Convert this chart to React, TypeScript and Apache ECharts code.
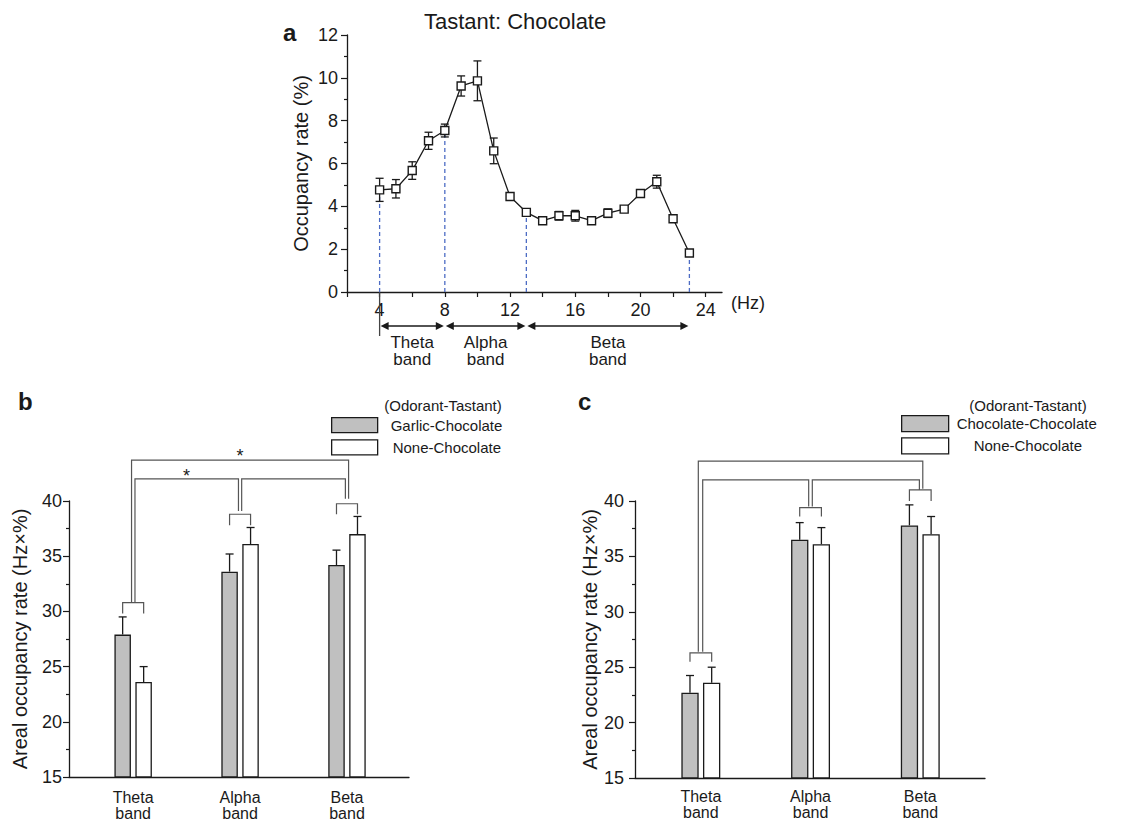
import React, { useEffect, useRef } from 'react';
import * as echarts from 'echarts';

// ---------- Panel a data ----------
const freqHz = [4, 5, 6, 7, 8, 9, 10, 11, 12, 13, 14, 15, 16, 17, 18, 19, 20, 21, 22, 23];
const occupancy = [4.77, 4.82, 5.67, 7.06, 7.54, 9.62, 9.86, 6.59, 4.46, 3.72, 3.33, 3.56, 3.56, 3.33, 3.68, 3.87, 4.6, 5.15, 3.42, 1.82];
const occupancyErr = [0.54, 0.43, 0.41, 0.4, 0.3, 0.47, 0.93, 0.6, 0.15, 0.12, 0.15, 0.2, 0.25, 0.15, 0.2, 0.1, 0.15, 0.3, 0.12, 0.1];
const bandEdges = [4, 8, 13, 23];
const bandNames = ['Theta\nband', 'Alpha\nband', 'Beta\nband'];
const xTicksA = [2, 4, 6, 8, 10, 12, 14, 16, 18, 20, 22, 24];
const xLabelsA = [4, 8, 12, 16, 20, 24];

// ---------- Panels b / c data ----------
const categories = ['Theta\nband', 'Alpha\nband', 'Beta\nband'];
const categoryPos = [1, 2, 3];
const garlicChoc = [27.9, 33.6, 34.2];
const garlicChocErr = [1.6, 1.6, 1.35];
const noneChoc = [23.6, 36.1, 37.0];
const noneChocErr = [1.4, 1.5, 1.6];
const chocChoc = [22.7, 36.5, 37.8];
const chocChocErr = [1.55, 1.55, 1.85];

// significance brackets: [category, topValue, legLength]
const pairBracketsB = [[1, 30.8, 1.0], [2, 38.8, 1.0], [3, 39.75, 0.95]];
// [xLeft, xRight, level, leftEnd, rightEnd]
const groupBracketsB = [[0.985, 3.015, 43.7, 30.8, 40.2], [1.017, 1.985, 42.0, 30.8, 39.1], [2.015, 2.985, 42.0, 39.1, 40.2]];
const starsB = [[1.5, 42.3], [2, 44.1]];

const pairBracketsC = [[1, 26.3, 0.8], [2, 39.4, 0.8], [3, 41.0, 1.0]];
const groupBracketsC = [[0.977, 3.023, 43.6, 26.4, 41.1], [1.017, 1.983, 41.9, 26.4, 39.5], [2.016, 2.992, 41.9, 39.5, 41.0]];

const FONT = '"Liberation Sans", Arial, Helvetica, sans-serif';
const INK = '#1a1a1a';
const GRAY = '#c0c0c0';
const BRACKET = '#555555';

function errorBarSeries(xi: number, yi: number, vals: number[], errs: number[], offsetPx: number) {
  return {
    type: 'custom',
    xAxisIndex: xi,
    yAxisIndex: yi,
    z: 3,
    silent: true,
    data: vals.map((v, i) => [categoryPos[i], v, errs[i]]),
    renderItem: (params: any, api: any) => {
      const x = api.value(0), v = api.value(1), e = api.value(2);
      const base = api.coord([x, v]);
      const top = api.coord([x, v + e]);
      const px = base[0] + offsetPx;
      const st = { stroke: INK, lineWidth: 1.3 };
      return {
        type: 'group',
        children: [
          { type: 'line', shape: { x1: px, y1: base[1], x2: px, y2: top[1] }, style: st },
          { type: 'line', shape: { x1: px - 4, y1: top[1], x2: px + 4, y2: top[1] }, style: st },
        ],
      };
    },
  };
}

function pairBracketSeries(xi: number, yi: number, data: number[][], offsetPx: number) {
  return {
    type: 'custom',
    xAxisIndex: xi,
    yAxisIndex: yi,
    z: 4,
    silent: true,
    data,
    renderItem: (params: any, api: any) => {
      const x = api.value(0), t = api.value(1), l = api.value(2);
      const p = api.coord([x, t]);
      const q = api.coord([x, t - l]);
      return {
        type: 'polyline',
        shape: { points: [[p[0] - offsetPx, q[1]], [p[0] - offsetPx, p[1]], [p[0] + offsetPx, p[1]], [p[0] + offsetPx, q[1]]] },
        style: { stroke: BRACKET, lineWidth: 1.2, fill: 'none' },
      };
    },
  };
}

function groupBracketSeries(xi: number, yi: number, data: number[][]) {
  return {
    type: 'custom',
    xAxisIndex: xi,
    yAxisIndex: yi,
    z: 4,
    silent: true,
    data,
    renderItem: (params: any, api: any) => {
      const a = api.coord([api.value(0), api.value(2)]);
      const b = api.coord([api.value(1), api.value(2)]);
      const ae = api.coord([api.value(0), api.value(3)]);
      const be = api.coord([api.value(1), api.value(4)]);
      return {
        type: 'polyline',
        shape: { points: [[a[0], ae[1]], [a[0], a[1]], [b[0], b[1]], [b[0], be[1]]] },
        style: { stroke: BRACKET, lineWidth: 1.2, fill: 'none' },
      };
    },
  };
}

function valueYAxis(gi: number, name: string, nameGap: number, margin: number) {
  return {
    gridIndex: gi,
    type: 'value',
    min: 15,
    max: 40,
    interval: 5,
    name,
    nameLocation: 'middle',
    nameGap,
    nameTextStyle: { fontSize: 20, fontFamily: FONT, color: INK },
    axisLine: { show: true, onZero: false, lineStyle: { color: INK, width: 1.3 } },
    axisTick: { show: true, length: 6, lineStyle: { color: INK, width: 1.2 } },
    minorTick: { show: true, splitNumber: 2, length: 3, lineStyle: { color: INK, width: 1.2 } },
    axisLabel: { fontSize: 18, fontFamily: FONT, color: INK, margin },
    splitLine: { show: false },
    minorSplitLine: { show: false },
  };
}

function catXAxis(gi: number, max: number, margin: number) {
  return {
    gridIndex: gi,
    type: 'value',
    min: 0.4,
    max,
    axisLine: { show: true, onZero: false, lineStyle: { color: INK, width: 1.3 } },
    axisTick: { show: false },
    axisLabel: {
      customValues: categoryPos,
      formatter: (v: number) => categories[Math.round(v) - 1] ?? '',
      fontSize: 16,
      lineHeight: 16,
      fontFamily: FONT,
      color: INK,
      margin,
    },
    splitLine: { show: false },
  };
}

const option: any = {
  animation: false,
  backgroundColor: '#ffffff',
  textStyle: { fontFamily: FONT },
  title: [
    { text: 'Tastant: Chocolate', left: 424, top: 10, padding: 0, textStyle: { fontSize: 22, fontWeight: 'normal', fontFamily: FONT, color: INK } },
    { text: 'a', left: 283, top: 20, padding: 0, textStyle: { fontSize: 24, fontWeight: 'bold', fontFamily: FONT, color: INK } },
    { text: 'b', left: 18, top: 389, padding: 0, textStyle: { fontSize: 24, fontWeight: 'bold', fontFamily: FONT, color: INK } },
    { text: 'c', left: 578, top: 389, padding: 0, textStyle: { fontSize: 24, fontWeight: 'bold', fontFamily: FONT, color: INK } },
  ],
  legend: [
    {
      left: 331, top: 417, orient: 'vertical', padding: 0, itemWidth: 46, itemHeight: 15, itemGap: 6,
      icon: 'rect', selectedMode: false,
      textStyle: { fontSize: 15, lineHeight: 15, fontFamily: FONT, color: INK },
      data: [
        { name: 'Garlic-Chocolate', itemStyle: { color: GRAY, borderColor: INK, borderWidth: 1.3 }, textStyle: { padding: [0, 0, 0, 8] } },
        { name: 'None-Chocolate', itemStyle: { color: '#ffffff', borderColor: INK, borderWidth: 1.3 }, textStyle: { padding: [0, 0, 0, 10] } },
      ],
    },
    {
      left: 901, top: 415, orient: 'vertical', padding: 0, itemWidth: 47, itemHeight: 16, itemGap: 5,
      icon: 'rect', selectedMode: false,
      textStyle: { fontSize: 15, lineHeight: 16, fontFamily: FONT, color: INK },
      data: [
        { name: 'Chocolate-Chocolate', itemStyle: { color: GRAY, borderColor: INK, borderWidth: 1.3 }, textStyle: { padding: [0, 0, 0, 3] } },
        { name: 'None-Chocolate', itemStyle: { color: '#ffffff', borderColor: INK, borderWidth: 1.3 }, textStyle: { padding: [0, 0, 0, 20] } },
      ],
    },
  ],
  graphic: [
    { type: 'text', x: 443, y: 405, style: { text: '(Odorant-Tastant)', align: 'center', verticalAlign: 'middle', fontSize: 15, fontFamily: FONT, fill: INK } },
    { type: 'text', x: 1028, y: 405, style: { text: '(Odorant-Tastant)', align: 'center', verticalAlign: 'middle', fontSize: 15, fontFamily: FONT, fill: INK } },
  ],
  grid: [
    { left: 347, top: 35, width: 375, height: 257 },
    { left: 69, top: 501, width: 340, height: 276 },
    { left: 635, top: 501, width: 350, height: 277 },
  ],
  xAxis: [
    {
      gridIndex: 0, type: 'value', min: 2, max: 25, interval: 2,
      name: '(Hz)', nameLocation: 'end', nameGap: 9,
      nameTextStyle: { fontSize: 18, fontFamily: FONT, color: INK, verticalAlign: 'top', padding: [2, 0, 0, 0] },
      axisLine: { show: true, onZero: false, lineStyle: { color: INK, width: 1.3 } },
      axisTick: { show: true, length: 5, customValues: xTicksA, lineStyle: { color: INK, width: 1.2 } },
      axisLabel: {
        customValues: xLabelsA,
        formatter: (v: number) => (v % 4 === 0 ? String(v) : ''),
        fontSize: 18, fontFamily: FONT, color: INK, margin: 9,
      },
      splitLine: { show: false },
    },
    catXAxis(1, 3.58, 12),
    catXAxis(2, 3.59, 10),
  ],
  yAxis: [
    {
      gridIndex: 0, type: 'value', min: 0, max: 12, interval: 2,
      name: 'Occupancy rate (%)', nameLocation: 'middle', nameGap: 36,
      nameTextStyle: { fontSize: 20, fontFamily: FONT, color: INK },
      axisLine: { show: true, onZero: false, lineStyle: { color: INK, width: 1.3 } },
      axisTick: { show: true, length: 6, lineStyle: { color: INK, width: 1.2 } },
      minorTick: { show: true, splitNumber: 2, length: 3, lineStyle: { color: INK, width: 1.2 } },
      axisLabel: { fontSize: 18, fontFamily: FONT, color: INK, margin: 9 },
      splitLine: { show: false },
    },
    valueYAxis(1, 'Areal occupancy rate (Hz×%)', 39, 7),
    valueYAxis(2, 'Areal occupancy rate (Hz×%)', 35, 11),
  ],
  series: [
    // ---- panel a ----
    {
      type: 'custom', xAxisIndex: 0, yAxisIndex: 0, z: 1, silent: true,
      data: bandEdges.map((x) => [x, occupancy[freqHz.indexOf(x)]]),
      renderItem: (params: any, api: any) => {
        const p0 = api.coord([api.value(0), 0]);
        const p1 = api.coord([api.value(0), api.value(1)]);
        return {
          type: 'line',
          shape: { x1: p0[0], y1: p0[1], x2: p1[0], y2: p1[1] },
          style: { stroke: '#4d6cc4', lineWidth: 1.3, lineDash: [4, 3] },
        };
      },
    },
    {
      type: 'custom', xAxisIndex: 0, yAxisIndex: 0, z: 2, silent: true,
      data: freqHz.map((x, i) => [x, occupancy[i], occupancyErr[i]]),
      renderItem: (params: any, api: any) => {
        const x = api.value(0), v = api.value(1), e = api.value(2);
        const t = api.coord([x, v + e]);
        const b = api.coord([x, v - e]);
        const st = { stroke: INK, lineWidth: 1.3 };
        return {
          type: 'group',
          children: [
            { type: 'line', shape: { x1: t[0], y1: t[1], x2: b[0], y2: b[1] }, style: st },
            { type: 'line', shape: { x1: t[0] - 4, y1: t[1], x2: t[0] + 4, y2: t[1] }, style: st },
            { type: 'line', shape: { x1: b[0] - 4, y1: b[1], x2: b[0] + 4, y2: b[1] }, style: st },
          ],
        };
      },
    },
    {
      type: 'line', xAxisIndex: 0, yAxisIndex: 0, z: 3,
      data: freqHz.map((x, i) => [x, occupancy[i]]),
      symbol: 'rect', symbolSize: 8,
      itemStyle: { color: '#ffffff', borderColor: INK, borderWidth: 1.4 },
      lineStyle: { color: INK, width: 1.3 },
      silent: true,
    },
    {
      type: 'custom', xAxisIndex: 0, yAxisIndex: 0, z: 2, silent: true,
      data: bandNames.map((n, i) => [bandEdges[i], bandEdges[i + 1], i]),
      renderItem: (params: any, api: any) => {
        const a = api.coord([api.value(0), 0]);
        const b = api.coord([api.value(1), 0]);
        const y = a[1] + 34;
        const xa = a[0] + 1, xb = b[0] - 1;
        const children: any[] = [
          { type: 'line', shape: { x1: xa + 6, y1: y, x2: xb - 6, y2: y }, style: { stroke: INK, lineWidth: 1.3 } },
          { type: 'polygon', shape: { points: [[xa, y], [xa + 8, y - 4], [xa + 8, y + 4]] }, style: { fill: INK } },
          { type: 'polygon', shape: { points: [[xb, y], [xb - 8, y - 4], [xb - 8, y + 4]] }, style: { fill: INK } },
          {
            type: 'text', x: (a[0] + b[0]) / 2, y: y + 25,
            style: { text: bandNames[api.value(2)], align: 'center', verticalAlign: 'middle', fontSize: 17, lineHeight: 17, fontFamily: FONT, fill: INK },
          },
        ];
        if (params.dataIndex === 0) {
          children.push({ type: 'line', shape: { x1: a[0], y1: a[1], x2: a[0], y2: a[1] + 44 }, style: { stroke: '#444', lineWidth: 1.3 } });
        }
        return { type: 'group', children };
      },
    },
    // ---- panel b ----
    {
      type: 'bar', name: 'Garlic-Chocolate', xAxisIndex: 1, yAxisIndex: 1,
      data: garlicChoc.map((v, i) => [categoryPos[i], v]),
      barWidth: 16.5, barGap: '27%',
      itemStyle: { color: GRAY, borderColor: INK, borderWidth: 1.3 },
      silent: true,
    },
    {
      type: 'bar', name: 'None-Chocolate', xAxisIndex: 1, yAxisIndex: 1,
      data: noneChoc.map((v, i) => [categoryPos[i], v]),
      barWidth: 16.5, barGap: '27%',
      itemStyle: { color: '#ffffff', borderColor: INK, borderWidth: 1.3 },
      silent: true,
    },
    errorBarSeries(1, 1, garlicChoc, garlicChocErr, -10.5),
    errorBarSeries(1, 1, noneChoc, noneChocErr, 10.5),
    pairBracketSeries(1, 1, pairBracketsB, 10.5),
    groupBracketSeries(1, 1, groupBracketsB),
    {
      type: 'custom', xAxisIndex: 1, yAxisIndex: 1, z: 5, silent: true,
      data: starsB,
      renderItem: (params: any, api: any) => {
        const p = api.coord([api.value(0), api.value(1)]);
        return { type: 'text', x: p[0], y: p[1], style: { text: '*', align: 'center', verticalAlign: 'middle', fontSize: 18, fontFamily: FONT, fill: INK } };
      },
    },
    // ---- panel c ----
    {
      type: 'bar', name: 'Chocolate-Chocolate', xAxisIndex: 2, yAxisIndex: 2,
      data: chocChoc.map((v, i) => [categoryPos[i], v]),
      barWidth: 17.3, barGap: '25%',
      itemStyle: { color: GRAY, borderColor: INK, borderWidth: 1.3 },
      silent: true,
    },
    {
      type: 'bar', name: 'None-Chocolate', xAxisIndex: 2, yAxisIndex: 2,
      data: noneChoc.map((v, i) => [categoryPos[i], v]),
      barWidth: 17.3, barGap: '25%',
      itemStyle: { color: '#ffffff', borderColor: INK, borderWidth: 1.3 },
      silent: true,
    },
    errorBarSeries(2, 2, chocChoc, chocChocErr, -10.85),
    errorBarSeries(2, 2, noneChoc, noneChocErr, 10.85),
    pairBracketSeries(2, 2, pairBracketsC, 10.85),
    groupBracketSeries(2, 2, groupBracketsC),
  ],
};

export default function App() {
  const ref = useRef<HTMLDivElement>(null);
  useEffect(() => {
    if (!ref.current) return;
    const chart = echarts.init(ref.current, null, { renderer: 'svg' });
    chart.setOption(option);
    return () => chart.dispose();
  }, []);
  return <div ref={ref} style={{ position: 'absolute', left: 0, top: 0, width: 1148, height: 822, background: '#fff' }} />;
}
